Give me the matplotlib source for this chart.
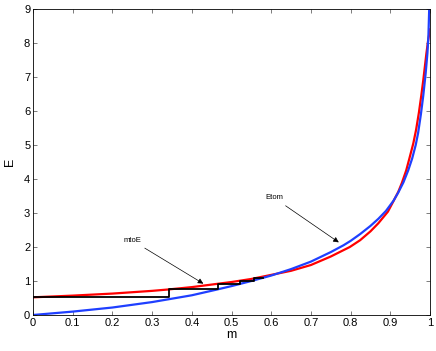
import matplotlib
matplotlib.use("Agg")
import matplotlib.pyplot as plt

# Etom curve (blue)
m_blue = [0.0, 0.05, 0.1, 0.15, 0.2, 0.25, 0.3, 0.34, 0.4, 0.46, 0.5, 0.55, 0.6, 0.65,
          0.7, 0.75, 0.782, 0.8, 0.824, 0.85, 0.87, 0.889, 0.908, 0.92, 0.933, 0.945,
          0.955, 0.964, 0.97, 0.977, 0.983, 0.989, 0.9935, 0.996, 0.998]
E_blue = [0.0, 0.05, 0.1, 0.16, 0.22, 0.3, 0.38, 0.46, 0.58, 0.74, 0.85, 1.0, 1.16, 1.35,
          1.57, 1.85, 2.05, 2.18, 2.38, 2.62, 2.83, 3.06, 3.36, 3.6, 3.9, 4.25,
          4.6, 5.0, 5.35, 5.9, 6.45, 7.1, 7.7, 8.2, 9.0]

# mtoE curve (red)
m_red = [0.0, 0.1, 0.2, 0.3, 0.34, 0.4, 0.46, 0.5, 0.55, 0.6, 0.65, 0.7, 0.75,
         0.798, 0.824, 0.85, 0.87, 0.894, 0.908, 0.92, 0.929, 0.94, 0.948, 0.958,
         0.965, 0.972, 0.978, 0.983, 0.987, 0.991, 0.995, 1.0]
E_red = [0.52, 0.57, 0.63, 0.71, 0.75, 0.82, 0.91, 0.97, 1.06, 1.18, 1.3, 1.47, 1.72,
         2.0, 2.2, 2.46, 2.7, 3.04, 3.35, 3.62, 3.88, 4.25, 4.6, 5.05,
         5.45, 5.95, 6.45, 6.9, 7.3, 7.7, 8.05, 8.4]

# staircase
m_step = [0.0, 0.342, 0.465, 0.521, 0.556, 0.58]
E_step = [0.52, 0.76, 0.92, 1.01, 1.08, 1.08]

fig = plt.figure(figsize=(4.36, 3.51), dpi=100)
ax = fig.add_axes([33 / 436, 36 / 351, 397 / 436, 306 / 351])

ax.plot(m_red, E_red, color="#ff0000", lw=1.6)
ax.plot(m_blue, E_blue, color="#1f3fff", lw=1.6)
ax.step(m_step, E_step, where="post", color="k", lw=1.3)

arrow = dict(arrowstyle="-|>", color="k", lw=0.5, mutation_scale=8)
ax.annotate("mtoE", xy=(0.435, 0.88), xytext=(0.227, 2.15), fontsize=5.5,
            family="Liberation Sans", arrowprops=arrow)
ax.annotate("Etom", xy=(0.776, 2.09), xytext=(0.585, 3.4), fontsize=5.5,
            family="Liberation Sans", arrowprops=arrow)

ax.set_xlim(0, 1)
ax.set_ylim(0, 9)
ax.set_xticks([0, 0.1, 0.2, 0.3, 0.4, 0.5, 0.6, 0.7, 0.8, 0.9, 1])
ax.set_xticklabels(["0", "0.1", "0.2", "0.3", "0.4", "0.5", "0.6", "0.7", "0.8", "0.9", "1"])
ax.set_yticks(range(10))
ax.tick_params(direction="in", top=True, right=True, length=3, width=0.6,
               color="#666666", labelsize=8, pad=2)
for lbl in ax.get_xticklabels() + ax.get_yticklabels():
    lbl.set_family("Liberation Sans")
for s in ax.spines.values():
    s.set_linewidth(0.6)
ax.set_xlabel("m", fontsize=9, family="Liberation Sans", labelpad=1)
ax.set_ylabel("E", fontsize=9, family="Liberation Sans", labelpad=6)

fig.savefig("out.png", dpi=100)
